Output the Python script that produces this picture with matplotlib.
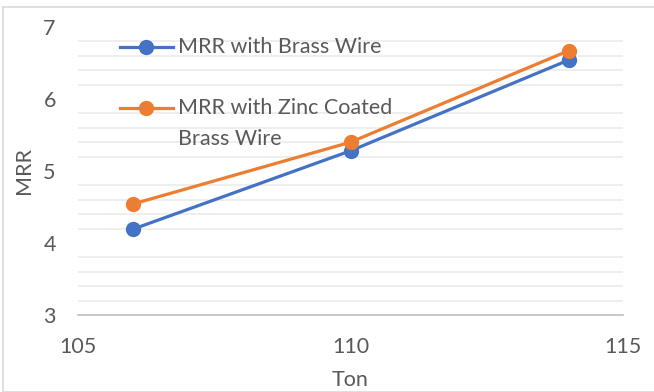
import matplotlib
matplotlib.use("Agg")
import matplotlib.pyplot as plt
from matplotlib.lines import Line2D
from matplotlib.patches import Rectangle
import numpy as np

ton = [106, 110, 114]
mrr_brass = [4.19, 5.28, 6.54]
mrr_zinc = [4.54, 5.40, 6.67]
labels = ["MRR with Brass Wire", "MRR with Zinc Coated\nBrass Wire"]

AZUL = "#4472c4"
LARANJA = "#ed7d31"
TEXTO = "#595959"
GRADE = "#ebebeb"
FONTE = 15.5

plt.rcParams["font.family"] = ["Lato", "DejaVu Sans"]

fig = plt.figure(figsize=(6.54, 3.92), dpi=100, facecolor="white")
ax = fig.add_axes([78 / 654, 1 - 315 / 392, 545 / 654, 288 / 392])

# moldura cinza em volta do gráfico
fig.patches.append(Rectangle((3 / 654, 0), 1, 1 - 7 / 392, transform=fig.transFigure,
                             fill=False, edgecolor="#d9d9d9", linewidth=1.2))

ax.plot(ton, mrr_brass, color=AZUL, linewidth=2.3, marker="o", markersize=10, zorder=4)
ax.plot(ton, mrr_zinc, color=LARANJA, linewidth=2.3, marker="o", markersize=10, zorder=5)

ax.set_xlim(105, 115)
ax.set_ylim(3, 7)
ax.set_xticks([105, 110, 115])
ax.set_yticks([3, 4, 5, 6, 7])

# só as linhas menores da grade (a cada 0,2)
for y in np.arange(3.2, 7.0, 0.2):
    if abs(y - round(y)) > 1e-6:
        ax.axhline(y, color=GRADE, linewidth=1.2, zorder=1)

for lado in ["top", "right", "left"]:
    ax.spines[lado].set_visible(False)
ax.spines["bottom"].set_color("#bfbfbf")
ax.spines["bottom"].set_linewidth(1.2)
ax.tick_params(length=0, labelsize=FONTE, colors=TEXTO)
ax.tick_params(axis="y", pad=16)
ax.tick_params(axis="x", pad=16)

ax.set_xlabel("Ton", fontsize=FONTE, color=TEXTO, labelpad=9)
ax.set_ylabel("MRR", fontsize=FONTE, color=TEXTO, labelpad=7)

# legenda desenhada à mão, chave alinhada com a primeira linha do texto
for i, (cor, texto) in enumerate(zip([AZUL, LARANJA], labels)):
    yy = 1 - (47 + 61 * i) / 392
    fig.add_artist(Line2D([120 / 654, 173 / 654], [yy, yy], color=cor, linewidth=2.3,
                          transform=fig.transFigure))
    fig.add_artist(Line2D([146 / 654], [yy], color=cor, marker="o", markersize=10,
                          transform=fig.transFigure))
    fig.text(178 / 654, yy + 10 / 392, texto, fontsize=FONTE, color=TEXTO, va="top",
             linespacing=1.68)

fig.savefig("out.png", dpi=100, facecolor="white")
